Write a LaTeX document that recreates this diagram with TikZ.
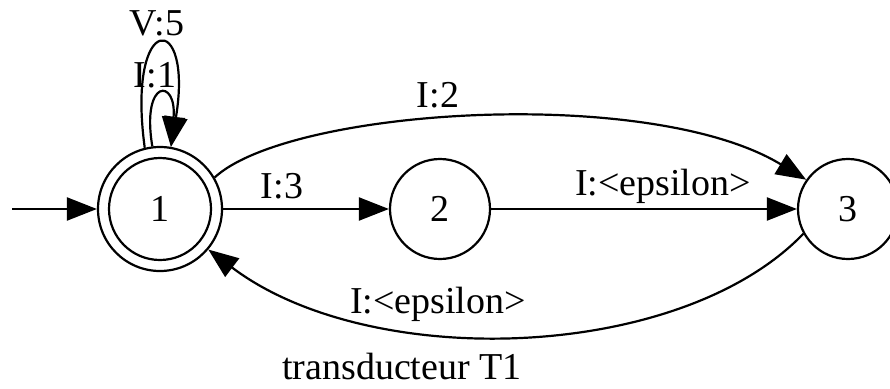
\documentclass[tikz,border=0pt]{standalone}
\usepackage{fontspec}
\setmainfont{Liberation Serif}
\usetikzlibrary{arrows.meta}
\begin{document}
\begin{tikzpicture}[x=1pt,y=-1pt,
  every node/.style={font=\fontsize{38}{45}\selectfont},
  st/.style={circle,draw,line width=2.2pt,inner sep=0pt},
  lbl/.style={anchor=base,inner sep=0pt},
  edge/.style={line width=2.2pt,-{Triangle[length=30pt,width=23pt]}}]
\useasboundingbox (0,0) rectangle (890,388);
\node[st,minimum size=102pt] (n1) at (160,209) {1};
\node[st,minimum size=124pt] (n1o) at (160,209) {};
\node[st,minimum size=100pt] (n2) at (440,209) {2};
\node[st,minimum size=100pt] (n3) at (848,209) {3};
\coordinate (init) at (12,209);
\draw[edge] (init) -- (n1o.west);
\draw[edge] (n1o.east) -- (n2.west);
\draw[edge] (n2.east) -- (n3.west);
\draw[edge] (n1o.30) .. controls (290,108) and (650,85) .. (n3.145);
\draw[edge] (n3.-151) .. controls (680,362) and (370,372) .. (n1o.-40);
\draw[edge] (n1o.104) .. controls (126,10) and (194,10) .. (n1o.80);
\draw[edge] (n1o.97) .. controls (141,78) and (177,78) .. (n1o.80);
\node[lbl] (l5) at (157,35) {V:5};
\node[lbl] (l1) at (155,87) {I:1};
\node[lbl] (l2) at (438,107) {I:2};
\node[lbl] (l3) at (282,198) {I:3};
\node[lbl] (le1) at (663,195) {I:<epsilon>};
\node[lbl] (le2) at (438,313) {I:<epsilon>};
\node[lbl] (title) at (402,379) {transducteur T1};
\end{tikzpicture}
\end{document}
